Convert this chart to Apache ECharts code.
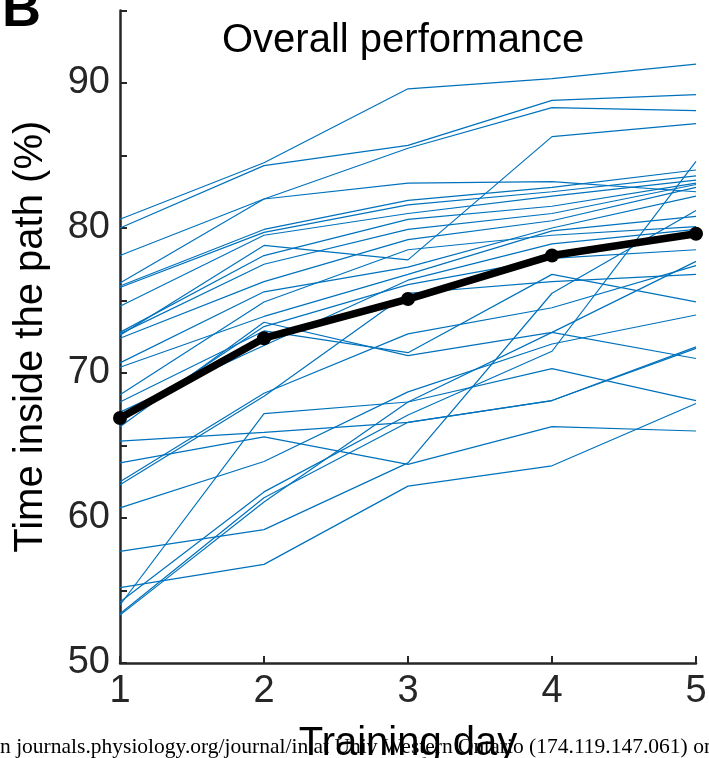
<!DOCTYPE html>
<html>
<head>
<meta charset="utf-8">
<script src="https://cdn.jsdelivr.net/npm/echarts@6/dist/echarts.min.js"></script>
<style>html,body{margin:0;padding:0;background:#fff}#c{width:709px;height:758px}</style>
</head>
<body>
<div id="c"></div>
<script>
const days = [1, 2, 3, 4, 5];
// one value per subject (29 subjects), per training day
const day1 = [80.6,80.0,78.1,76.2,72.6,76.0,75.9,74.6,72.8,72.7,72.4,70.7,70.4,68.5,66.3,68.0,67.3,66.6,65.3,63.8,62.5,62.3,60.7,54.0,57.7,55.2,54.2,53.4,53.3];
const day2 = [84.5,84.3,82.0,82.0,78.8,79.9,79.7,79.5,78.1,77.5,76.3,75.6,73.9,74.9,73.5,72.9,71.9,73.2,65.9,65.6,68.6,68.4,63.9,67.2,59.2,56.8,61.8,61.4,61.1];
const day3 = [89.6,85.7,85.5,83.1,77.8,81.9,81.6,81.0,80.6,79.9,79.2,77.3,76.8,78.5,71.2,71.4,76.4,76.1,66.6,63.7,72.7,75.5,68.7,68.0,63.8,62.2,67.1,66.6,68.0];
const day4 = [90.3,88.8,88.3,83.2,86.3,82.8,82.5,82.2,81.5,81.0,80.5,80.0,79.8,79.5,72.8,76.8,78.9,77.9,68.1,66.3,74.5,76.3,72.0,70.3,75.5,63.6,71.5,68.1,72.8];
const day5 = [91.3,89.2,88.1,82.5,87.2,84.0,83.6,83.3,83.1,83.0,82.8,82.2,80.8,80.1,77.7,74.9,79.9,78.5,71.7,66.0,77.4,76.8,74.0,68.1,81.2,67.9,84.6,71.8,71.0];
const meanPerf = [66.9, 72.4, 75.1, 78.1, 79.6];
const titleText = 'Overall performance';
const xName = 'Training day';
const yName = 'Time inside the path (%)';

const perDay = [day1, day2, day3, day4, day5];
const series = [];
for (let s = 0; s < day1.length; s++) {
  series.push({
    type: 'line',
    data: days.map((d, i) => [d, perDay[i][s]]),
    symbol: 'none',
    lineStyle: { color: '#0072BD', width: 1.2 },
    silent: true,
    animation: false,
    z: 2
  });
}
series.push({
  type: 'line',
  data: days.map((d, i) => [d, meanPerf[i]]),
  symbol: 'circle',
  symbolSize: 14,
  itemStyle: { color: '#000' },
  lineStyle: { color: '#000', width: 7.5 },
  animation: false,
  z: 5
});

const axisCol = '#262626';
const chart = echarts.init(document.getElementById('c'));
chart.setOption({
  backgroundColor: '#fff',
  animation: false,
  grid: { left: 120, right: 13, top: 10.5, bottom: 95, containLabel: false, outerBoundsMode: 'none' },
  xAxis: {
    type: 'value', min: 1, max: 5, interval: 1,
    name: xName, nameLocation: 'middle', nameGap: 61,
    nameTextStyle: { fontFamily: 'Liberation Sans', fontSize: 40, color: '#000' },
    axisLine: { lineStyle: { color: axisCol, width: 2.5 } },
    axisTick: { inside: true, length: 7, lineStyle: { color: axisCol, width: 2 } },
    axisLabel: { fontFamily: 'Liberation Sans', fontSize: 38, color: axisCol, margin: 10 },
    splitLine: { show: false }
  },
  yAxis: {
    type: 'value', min: 50, max: 95, interval: 5,
    name: yName, nameLocation: 'middle', nameGap: 69, nameRotate: 90,
    nameTextStyle: { fontFamily: 'Liberation Sans', fontSize: 40, color: '#000' },
    axisLine: { show: true, lineStyle: { color: axisCol, width: 2.5 } },
    axisTick: { show: true, inside: true, length: 7, lineStyle: { color: axisCol, width: 2 } },
    axisLabel: { fontFamily: 'Liberation Sans', fontSize: 38, color: axisCol, margin: 10,
      formatter: v => (v % 10 === 0 && v < 95) ? String(v) : '' },
    splitLine: { show: false }
  },
  graphic: [
    { type: 'text', left: 222, top: 21, style: { text: titleText, font: '40px "Liberation Sans"', fill: '#000' } },
    { type: 'text', left: 2, top: -16, style: { text: 'B', font: 'bold 54px "Liberation Sans"', fill: '#000' } },
    { type: 'text', left: 0, top: 736, z: 10, style: { text: 'n journals.physiology.org/journal/in at Univ Western Ontario (174.119.147.061) on', font: '21.5px "Liberation Serif"', fill: '#000' } }
  ],
  series: series
});
</script>
</body>
</html>
